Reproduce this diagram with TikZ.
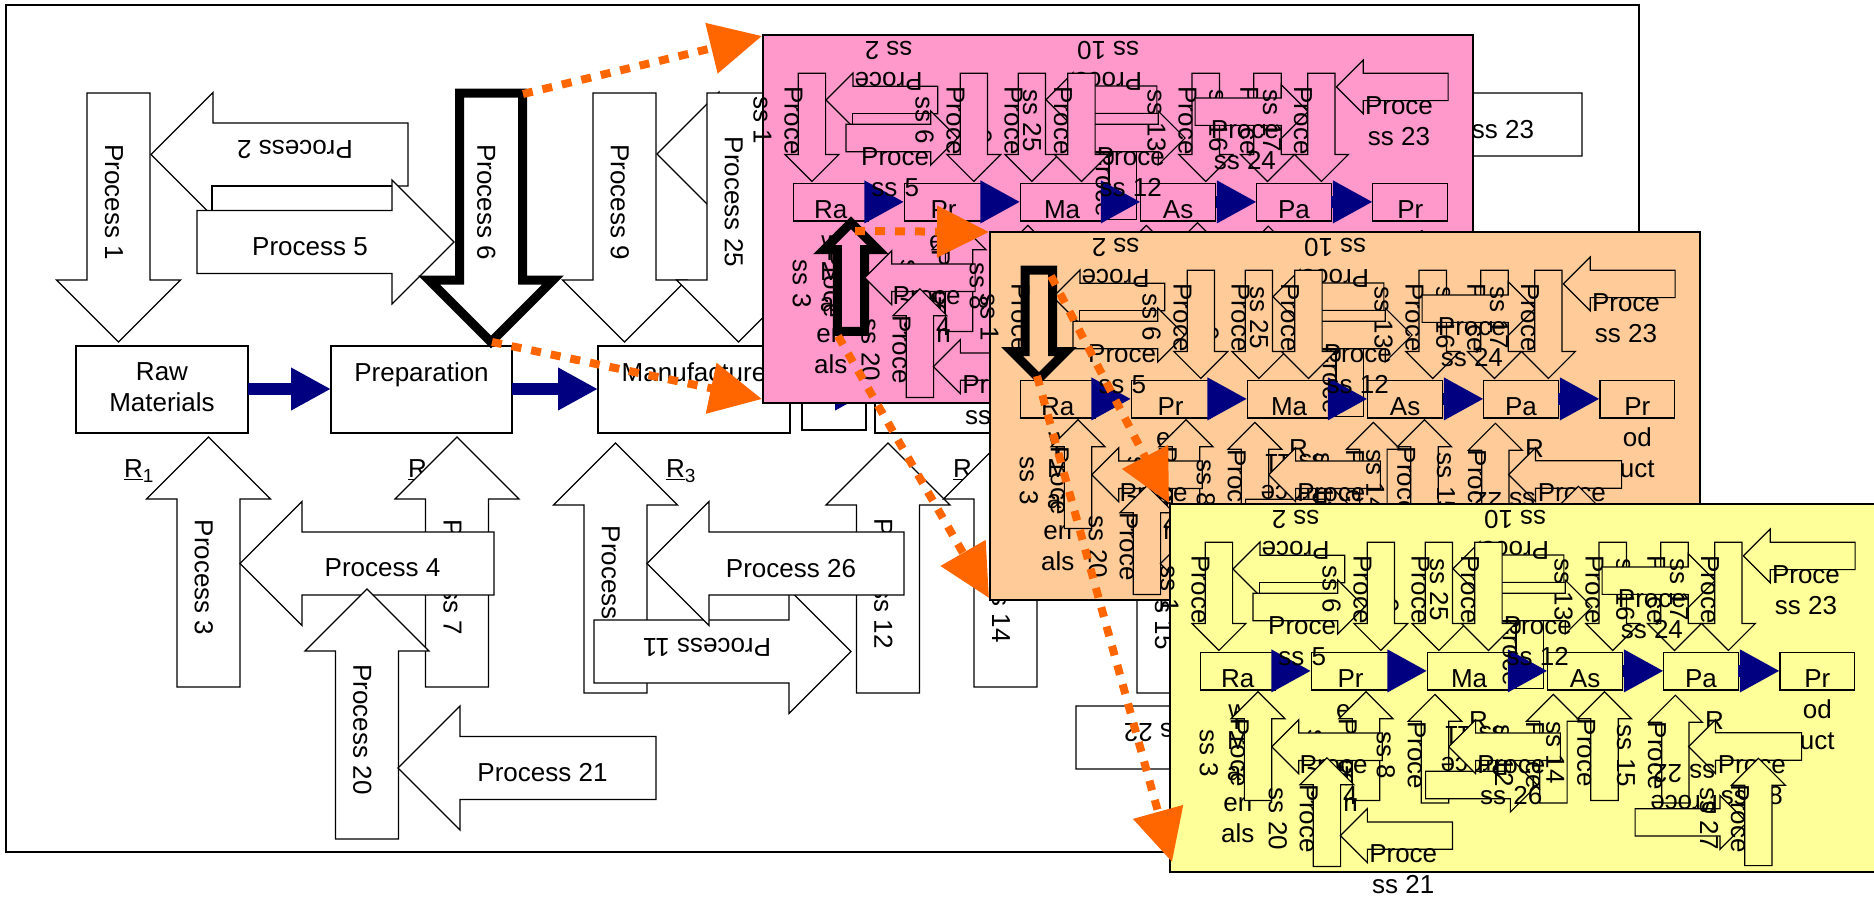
\documentclass[tikz,border=0pt]{standalone}
\usepackage{fontspec}
\setmainfont{Liberation Sans}
\usetikzlibrary{arrows.meta}
\definecolor{pinkp}{HTML}{FF99CC}
\definecolor{orangep}{HTML}{FFCC99}
\definecolor{yellowp}{HTML}{FFFF99}
\definecolor{navyb}{HTML}{000080}
\definecolor{dotor}{HTML}{FF6600}
\newif\ifpanel
\def\pfill{white}
\def\hlnum{0}
\def\apad{27pt}
\def\SW{31.5}\def\HW{62}\def\HL{62}
\newcounter{nd}
\tikzset{
  shp/.style={draw=black,line width=1.2pt,fill=\pfill},
  txt/.style={font={\fontsize{26}{31}\selectfont},align=center,inner xsep=0pt,outer sep=0pt,anchor=north},
  bluearr/.style={draw=navyb,line width=12pt,-{Triangle[length=40pt,width=40pt]}},
  dotarr/.style={draw=dotor,line width=8pt,dash pattern=on 10pt off 10pt,-{Triangle[length=52pt,width=50pt]}},
}
\newcommand\pickText[2]{\ifpanel\def\thetext{#2}\else\def\thetext{#1}\fi\stepcounter{nd}}
\newcommand\pickLw[1]{\ifnum#1=\hlnum\relax\def\lw{9pt}\else\def\lw{1.2pt}\fi}
% down arrow: num, cx, ytop, ytip, main, panel
\newcommand\dArr[6]{\pickLw{#1}\pickText{#5}{#6}%
  \pgfmathsetmacro\xa{#2-\SW}\pgfmathsetmacro\xb{#2+\SW}%
  \pgfmathsetmacro\ha{#2-\HW}\pgfmathsetmacro\hb{#2+\HW}%
  \pgfmathsetmacro\yh{#4-\HL}\pgfmathsetmacro\tc{(#3+#4-\HL/2)/2}%
  \draw[shp,line width=\lw] (\xa,#3) -- (\xb,#3) -- (\xb,\yh) -- (\hb,\yh) -- (#2,#4) -- (\ha,\yh) -- (\xa,\yh) -- cycle;
  \node[txt,rotate=-90,inner ysep=\apad] (n\arabic{nd}) at (\xb,\tc) {\thetext};}
% up arrow: num, cx, ybottom, ytip, main, panel
\newcommand\uArr[6]{\pickLw{#1}\pickText{#5}{#6}%
  \pgfmathsetmacro\xa{#2-\SW}\pgfmathsetmacro\xb{#2+\SW}%
  \pgfmathsetmacro\ha{#2-\HW}\pgfmathsetmacro\hb{#2+\HW}%
  \pgfmathsetmacro\yh{#4+\HL}\pgfmathsetmacro\tc{(#3+#4+\HL/2)/2}%
  \draw[shp,line width=\lw] (\xa,#3) -- (\xb,#3) -- (\xb,\yh) -- (\hb,\yh) -- (#2,#4) -- (\ha,\yh) -- (\xa,\yh) -- cycle;
  \node[txt,rotate=-90,inner ysep=\apad] (n\arabic{nd}) at (\xb,\tc) {\thetext};}
% left arrow: num, cy, xtail, xtip, rot, main, panel
\newcommand\lArr[7]{\pickLw{#1}\pickText{#6}{#7}%
  \pgfmathsetmacro\ya{#2-\SW}\pgfmathsetmacro\yb{#2+\SW}%
  \pgfmathsetmacro\va{#2-\HW}\pgfmathsetmacro\vb{#2+\HW}%
  \pgfmathsetmacro\xh{#4+\HL}\pgfmathsetmacro\tc{(#3+#4+\HL/2)/2}%
  \draw[shp,line width=\lw] (#3,\ya) -- (#3,\yb) -- (\xh,\yb) -- (\xh,\vb) -- (#4,#2) -- (\xh,\va) -- (\xh,\ya) -- cycle;
  \ifnum#5=0 \node[txt,inner ysep=\apad] (n\arabic{nd}) at (\tc,\ya) {\thetext};%
  \else \node[txt,rotate=180,inner ysep=\apad] (n\arabic{nd}) at (\tc,\yb) {\thetext};\fi}
% right arrow: num, cy, xtail, xtip, rot, main, panel
\newcommand\rArr[7]{\pickLw{#1}\pickText{#6}{#7}%
  \pgfmathsetmacro\ya{#2-\SW}\pgfmathsetmacro\yb{#2+\SW}%
  \pgfmathsetmacro\va{#2-\HW}\pgfmathsetmacro\vb{#2+\HW}%
  \pgfmathsetmacro\xh{#4-\HL}\pgfmathsetmacro\tc{(#3+#4-\HL/2)/2}%
  \draw[shp,line width=\lw] (#3,\ya) -- (#3,\yb) -- (\xh,\yb) -- (\xh,\vb) -- (#4,#2) -- (\xh,\va) -- (\xh,\ya) -- cycle;
  \ifnum#5=0 \node[txt,inner ysep=\apad] (n\arabic{nd}) at (\tc,\ya) {\thetext};%
  \else \node[txt,rotate=180,inner ysep=\apad] (n\arabic{nd}) at (\tc,\yb) {\thetext};\fi}
\newcommand\bBox[6]{\pickText{#5}{#6}%
  \draw[shp] (#1,#2) rectangle (#3,#4);
  \pgfmathsetmacro\bc{(#1+#3)/2}%
  \node[txt,inner ysep=17pt] (n\arabic{nd}) at (\bc,#2) {\thetext};}
\newcommand\vRect[6]{\pickText{#5}{#6}%
  \draw[shp] (#1,#2) rectangle (#3,#4);
  \pgfmathsetmacro\bc{(#2+#4)/2}%
  \node[txt,rotate=-90,inner ysep=\apad] (n\arabic{nd}) at (#3,\bc) {\thetext};}
\newcommand\rLab[3]{\pickText{\underline{R}\raisebox{-5pt}{\fontsize{19}{19}\selectfont #3}}{R}%
  \node[txt,anchor=north west,inner xsep=21.5pt,inner ysep=17.7pt] (n\arabic{nd}) at (#1,#2) {\thetext};}
\newcommand\bArr[2]{\draw[bluearr] (#1,389) -- (#2,389);}

\newcommand\drawDiagram{%
  \draw[shp,line width=1.5pt] (6,5) rectangle (1639,852);
  \rLab{102.5}{442}{1}\rLab{386.5}{442}{2}\rLab{644.5}{442}{3}\rLab{931.5}{442}{4}\rLab{1187.5}{442}{5}
  \bBox{76}{346}{248}{433}{Raw\\Materials}{Ra\\w\\M\\at\\eri\\als}
  \bBox{331}{346}{512}{433}{Preparation}{Pr\\ep\\ara\\tio\\n}
  \bBox{598}{346}{790}{433}{Manufacture}{Ma}
  \vRect{802}{262}{866}{430}{Process}{Proce}
  \bBox{875}{346}{1047}{433}{Assembly}{As}
  \bBox{1142}{346}{1313}{433}{Packaging}{Pa}
  \bBox{1409}{346}{1581}{433}{Product}{Pr\\od\\uct}
  \bArr{248}{331}\bArr{512}{598}\bArr{790}{875}\bArr{1047}{1142}\bArr{1313}{1409}
  \lArr{2}{154.5}{408}{151}{180}{Process 2}{Proce\\ss 2}
  \draw[shp] (212,186) rectangle (393,211);
  \rArr{5}{242}{197}{454}{0}{Process 5}{Proce\\ss 5}
  \dArr{1}{118.5}{93}{342}{Process 1}{Proce\\ss 1}
  \lArr{10}{154}{912}{657}{180}{Process 10}{Proce\\ss 10}
  \draw[shp] (719,185) rectangle (920,211);
  \rArr{12}{242}{758}{977}{0}{Process 12}{Proce\\ss 12}
  \dArr{9}{624.5}{93}{342}{Process 9}{Proce\\ss 9}
  \dArr{25}{738.5}{93}{342}{Process 25}{Proce\\ss 25}
  \dArr{6}{491}{93}{342}{Process 6}{Proce\\ss 6}
  \dArr{13}{1024.5}{93}{342}{Process 13}{Proce\\ss 13}
  \dArr{16}{1166.5}{93}{342}{Process 16}{Proce\\ss 16}
  \rArr{24}{181.5}{1000}{1260}{0}{Process 24}{Proce\\ss 24}
  \dArr{17}{1290.5}{93}{342}{Process 17}{Proce\\ss 17}
  \lArr{23}{124.5}{1582}{1325}{0}{Process 23}{Proce\\ss 23}
  \uArr{3}{208.5}{687}{437}{Process 3}{Proce\\ss 3}
  \uArr{7}{457}{687}{437}{Process 7}{Proce\\ss 7}
  \lArr{4}{563.5}{494}{240}{0}{Process 4}{Proce\\ss 4}
  \uArr{20}{367}{839}{589}{Process 20}{Proce\\ss 20}
  \lArr{21}{768}{656}{398}{0}{Process 21}{Proce\\ss 21}
  \uArr{8}{615.5}{693}{443}{Process 8}{Proce\\ss 8}
  \rArr{11}{651.5}{594}{851}{180}{Process 11}{Proce\\ss 11}
  \uArr{12}{888}{693}{443}{Process 12}{Proce\\ss 12}
  \lArr{26}{563.5}{904}{647}{0}{Process 26}{Proce\\ss 26}
  \uArr{14}{1005.5}{687}{437}{Process 14}{Proce\\ss 14}
  \uArr{15}{1168.5}{693}{445}{Process 15}{Proce\\ss 15}
  \lArr{18}{563}{1459}{1199}{0}{Process 18}{Proce\\ss 18}
  \rArr{22}{737.5}{1076}{1333}{180}{Process 22}{Proce\\ss 22}
  \uArr{27}{1359.5}{837}{590}{Process 27}{Proce\\ss 27}
}

\begin{document}
\begin{tikzpicture}[x=1pt,y=-1pt]
\useasboundingbox (0,0) rectangle (1874,897);
\fill[white] (0,0) rectangle (1874,897);
\begin{scope}
  \panelfalse\def\pfill{white}\def\hlnum{6}\def\apad{27pt}
  \drawDiagram
\end{scope}
\begin{scope}[shift={(760.4,32.8)},scale=0.4347]
  \paneltrue\def\pfill{pinkp}\def\hlnum{3}\def\apad{23pt}
  \drawDiagram
\end{scope}
\begin{scope}[shift={(987.4,229.8)},scale=0.4347]
  \paneltrue\def\pfill{orangep}\def\hlnum{1}\def\apad{23pt}
  \drawDiagram
\end{scope}
\begin{scope}[shift={(1167.4,501.8)},scale=0.4347]
  \paneltrue\def\pfill{yellowp}\def\hlnum{0}\def\apad{23pt}
  \drawDiagram
\end{scope}
\coordinate (a1s) at (523,94);   \coordinate (a1e) at (762,36);
\coordinate (a2s) at (492,342);  \coordinate (a2e) at (762,399);
\coordinate (a3s) at (855,231);  \coordinate (a3e) at (989,232);
\coordinate (a4s) at (838,336);  \coordinate (a4e) at (989,598);
\coordinate (a5s) at (1051,276); \coordinate (a5e) at (1169,503);
\coordinate (a6s) at (1037,376); \coordinate (a6e) at (1172,862);
\draw[dotarr] (a1s) -- (a1e);
\draw[dotarr] (a2s) -- (a2e);
\draw[dotarr] (a3s) -- (a3e);
\draw[dotarr] (a4s) -- (a4e);
\draw[dotarr] (a5s) -- (a5e);
\draw[dotarr] (a6s) -- (a6e);
\end{tikzpicture}
\end{document}
